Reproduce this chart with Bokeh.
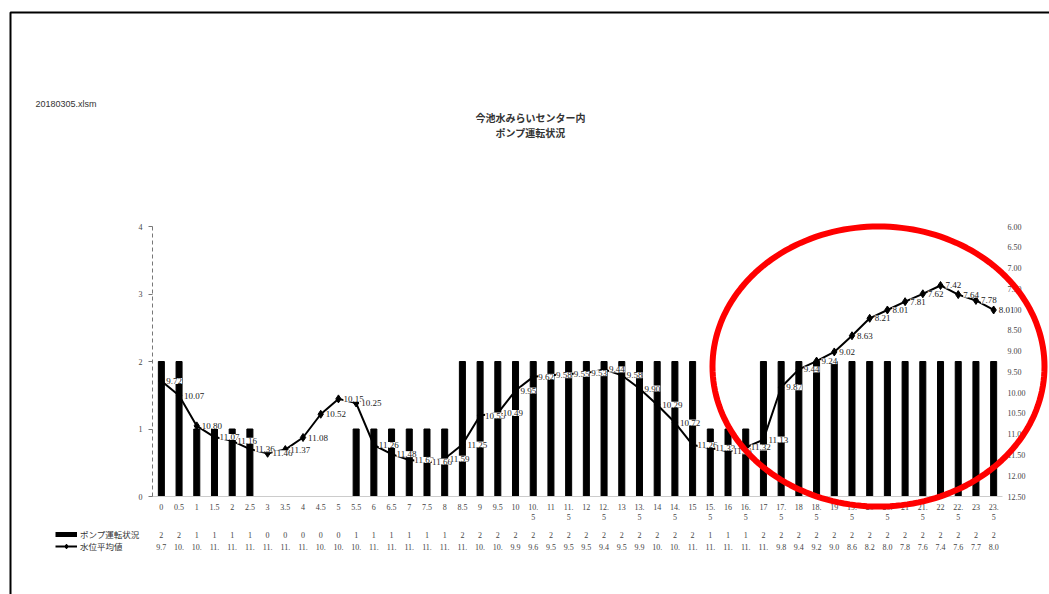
import math
from bokeh.plotting import figure
from bokeh.models import (Range1d, LinearAxis, FixedTicker, PrintfTickFormatter,
                          ColumnDataSource, LabelSet, Label, Legend, LegendItem,
                          PolyAnnotation, BoxAnnotation)
from bokeh.embed import file_html
from bokeh.resources import INLINE

# ---- data ----
hours = ["0", "0.5", "1", "1.5", "2", "2.5", "3", "3.5", "4", "4.5", "5", "5.5",
         "6", "6.5", "7", "7.5", "8", "8.5", "9", "9.5", "10", "10.5", "11", "11.5",
         "12", "12.5", "13", "13.5", "14", "14.5", "15", "15.5", "16", "16.5", "17", "17.5",
         "18", "18.5", "19", "19.5", "20", "20.5", "21", "21.5", "22", "22.5", "23", "23.5"]
pump_status = [2, 2, 1, 1, 1, 1, 0, 0, 0, 0, 0, 1,
               1, 1, 1, 1, 1, 2, 2, 2, 2, 2, 2, 2,
               2, 2, 2, 2, 2, 2, 2, 1, 1, 1, 2, 2,
               2, 2, 2, 2, 2, 2, 2, 2, 2, 2, 2, 2]
water_level = [9.72, 10.07, 10.80, 11.07, 11.16, 11.36, 11.46, 11.37, 11.08, 10.52, 10.15, 10.25,
               11.26, 11.48, 11.62, 11.66, 11.59, 11.25, 10.55, 10.49, 9.95, 9.62, 9.58, 9.55,
               9.53, 9.44, 9.58, 9.90, 10.29, 10.72, 11.26, 11.33, 11.41, 11.32, 11.13, 9.87,
               9.44, 9.24, 9.02, 8.63, 8.21, 8.01, 7.81, 7.62, 7.42, 7.64, 7.78, 8.01]
left_ticks = [0, 1, 2, 3, 4]
right_ticks = [6.0, 6.5, 7.0, 7.5, 8.0, 8.5, 9.0, 9.5, 10.0, 10.5, 11.0, 11.5, 12.0, 12.5]

series_bar = "ポンプ運転状況"
series_line = "水位平均値"
title_lines = ["今池水みらいセンター内", "ポンプ運転状況"]
file_name = "20180305.xlsm"

SERIF = "Liberation Serif"
JP = "Noto Sans CJK JP"
TXT = "#333333"
TICK = "#444444"

# ---- page / plot-area geometry (pixels) ----
W, H = 1049, 594
FL, FR, FT, FB = 152, 1002, 226, 496          # plot area inside the page
LEFT_MIN, LEFT_MAX = 0, 4                      # left axis
RIGHT_TOP, RIGHT_BOT = 6.0, 12.5               # right axis (reversed)
n = len(hours)
idx = list(range(n))

ux = (FR - FL) / n                              # px per category
x_start = -0.5 - FL / ux
x_end = n - 0.5 + (W - FR) / ux
uy = (FB - FT) / (LEFT_MAX - LEFT_MIN)
y_start = LEFT_MIN - (H - FB) / uy
y_end = LEFT_MAX + FT / uy
uw = (FB - FT) / (RIGHT_BOT - RIGHT_TOP)
w_start = RIGHT_BOT + (H - FB) / uw
w_end = RIGHT_TOP - FT / uw

def row_y(py):
    """page pixel row -> left-axis data value"""
    return LEFT_MIN + (FB - py) / uy

src = ColumnDataSource(dict(
    x=idx, hours=hours, pump=pump_status, water=water_level,
    wlabel=["%.2f" % v for v in water_level],
    status_txt=[str(s) for s in pump_status],
    water_txt=[("%.2f" % v)[:3] for v in water_level],
))

p = figure(width=W, height=H, x_range=Range1d(x_start, x_end), y_range=Range1d(y_start, y_end),
           output_backend="svg", toolbar_location=None,
           x_axis_location=None, y_axis_location=None,
           min_border=0, min_border_left=0, min_border_right=0,
           min_border_top=0, min_border_bottom=0)
p.outline_line_color = None
p.xgrid.grid_line_color = None
p.ygrid.grid_line_color = None
p.background_fill_color = "white"
p.border_fill_color = "white"
p.extra_y_ranges = {"water": Range1d(w_start, w_end)}

# bars
p.vbar(x="x", top="pump", bottom=0, width=0.34, source=src,
       fill_color="black", line_color="black")

# line + markers
r_line = p.line(x="x", y="water", source=src, y_range_name="water",
                line_color="black", line_width=2)
r_mark = p.scatter(x="x", y="water", source=src, y_range_name="water",
                   marker="diamond", size=8, fill_color="black", line_color="black")

# data labels
labels = LabelSet(x="x", y="water", text="wlabel", source=src, y_range_name="water",
                  x_offset=5, y_offset=0, text_baseline="middle", text_align="left",
                  text_font=SERIF, text_font_size="9px", text_color="#222222",
                  background_fill_color="white", background_fill_alpha=1.0)
p.add_layout(labels)

# left axis (dashed)
la = LinearAxis(fixed_location=-0.5, ticker=FixedTicker(ticks=left_ticks),
                bounds=(LEFT_MIN, LEFT_MAX))
la.axis_line_color = "#777777"
la.axis_line_dash = "4 3"
la.major_tick_line_color = "#777777"
la.major_tick_out = 4
la.major_tick_in = 0
la.minor_tick_line_color = None
la.major_label_text_font = SERIF
la.major_label_text_font_size = "8px"
la.major_label_text_color = TICK
la.major_label_standoff = 6
p.add_layout(la, "left")

# right axis (reversed)
ra = LinearAxis(y_range_name="water", fixed_location=n - 0.5,
                ticker=FixedTicker(ticks=right_ticks),
                formatter=PrintfTickFormatter(format="%.2f"), bounds=(RIGHT_TOP, RIGHT_BOT))
ra.axis_line_color = None
ra.major_tick_line_color = None
ra.major_tick_out = 0
ra.major_tick_in = 0
ra.minor_tick_line_color = None
ra.minor_tick_out = 0
ra.major_label_text_font = SERIF
ra.major_label_text_font_size = "8px"
ra.major_label_text_color = TICK
ra.major_label_standoff = 5
p.add_layout(ra, "right")

# category axis
ca = LinearAxis(fixed_location=0, ticker=FixedTicker(ticks=idx), bounds=(-0.5, n - 0.5))
ca.axis_line_color = "#cccccc"
ca.major_tick_line_color = None
ca.major_tick_out = 0
ca.minor_tick_line_color = None
ca.minor_tick_out = 0
ca.major_label_text_font = SERIF
ca.major_label_text_font_size = "8px"
ca.major_label_text_color = TICK
ca.major_label_standoff = 6
ca.major_label_overrides = {i: (h[:3] + "\n" + h[3:] if len(h) > 3 else h)
                            for i, h in zip(idx, hours)}
p.add_layout(ca, "below")

# data-table rows
p.text(x="x", y=row_y(534), text="status_txt", source=src, text_align="center",
       text_baseline="middle", text_font=SERIF, text_font_size="8px", text_color=TICK)
p.text(x="x", y=row_y(546), text="water_txt", source=src, text_align="center",
       text_baseline="middle", text_font=SERIF, text_font_size="8px", text_color=TICK)

# legend (as in the data table) - hidden proxy for the thick bar key
r_leg_bar = p.line(x="x", y="pump", source=src, line_color="black", line_width=5, visible=False)
legend = Legend(items=[LegendItem(label=series_bar, renderers=[r_leg_bar]),
                       LegendItem(label=series_line, renderers=[r_line, r_mark])],
                location=(55, H - 552), padding=0, margin=0, spacing=0,
                glyph_width=22, glyph_height=12, label_height=12, label_standoff=3,
                label_text_font=JP, label_text_font_size="8.5px", label_text_color=TXT,
                border_line_color=None, background_fill_alpha=0,
                inactive_fill_alpha=0)
p.add_layout(legend)

# titles and file name (screen units measured from the page's bottom-left)
p.add_layout(Label(x=530, y=H - 117, x_units="screen", y_units="screen",
                   text=title_lines[0], text_align="center", text_baseline="middle",
                   text_font=JP, text_font_size="10px", text_font_style="bold", text_color=TXT))
p.add_layout(Label(x=530, y=H - 132, x_units="screen", y_units="screen",
                   text=title_lines[1], text_align="center", text_baseline="middle",
                   text_font=JP, text_font_size="10px", text_font_style="bold", text_color=TXT))
p.add_layout(Label(x=35, y=H - 103, x_units="screen", y_units="screen",
                   text=file_name, text_align="left", text_baseline="middle",
                   text_font="Liberation Sans", text_font_size="9px", text_color=TXT))

# page frame (top and left edges)
p.add_layout(BoxAnnotation(left=10, right=W + 30, top=H - 12, bottom=-30,
                           left_units="screen", right_units="screen",
                           top_units="screen", bottom_units="screen",
                           fill_color=None, fill_alpha=0, line_color="black",
                           line_alpha=1.0, line_width=2))

# red ellipse annotation
cx, cy, ea, eb = 878, 366, 166, 140
ts = [2 * math.pi * k / 180 for k in range(181)]
p.add_layout(PolyAnnotation(xs=[cx + ea * math.cos(t) for t in ts],
                            ys=[H - cy + eb * math.sin(t) for t in ts],
                            xs_units="screen", ys_units="screen",
                            fill_color=None, fill_alpha=0,
                            line_color="#ff0000", line_alpha=1.0, line_width=6))

open("out.html", "w").write(file_html(p, INLINE))
